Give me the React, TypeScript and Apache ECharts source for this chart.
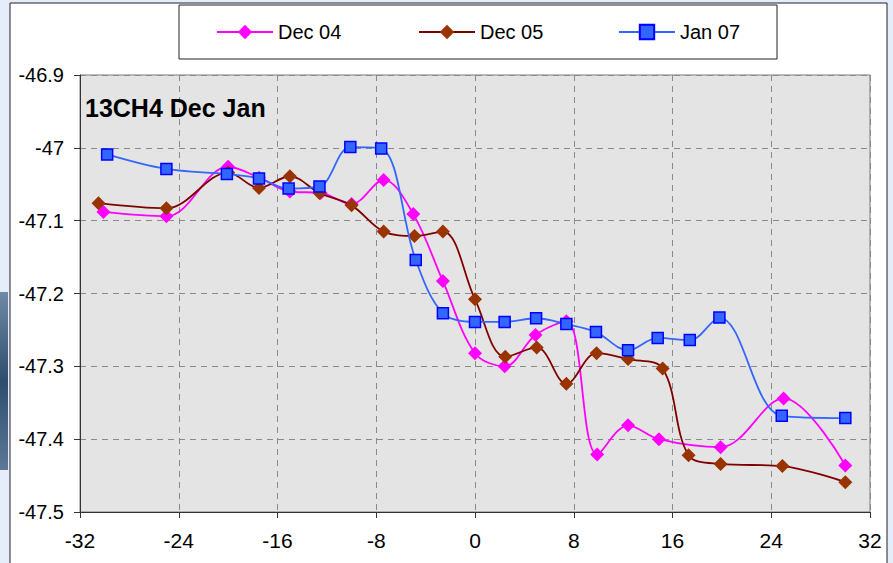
import React, { useEffect, useRef } from "react";
import * as echarts from "echarts";

const seriesNames = ["Dec 04", "Dec 05", "Jan 07"];

const dec04: [number, number][] = [
  [-30.1, -47.088], [-25, -47.094], [-20, -47.026], [-17.5, -47.041], [-15, -47.06],
  [-12.5, -47.062], [-10, -47.077], [-7.4, -47.044], [-5, -47.091], [-2.6, -47.183],
  [0, -47.282], [2.4, -47.3], [4.9, -47.257], [7.4, -47.238], [9.9, -47.421],
  [12.4, -47.381], [14.9, -47.4], [19.9, -47.411], [25, -47.344], [30, -47.436],
];

const dec05: [number, number][] = [
  [-30.5, -47.076], [-25, -47.083], [-20, -47.034], [-17.5, -47.055], [-15, -47.039],
  [-12.6, -47.062], [-10, -47.079], [-7.4, -47.115], [-4.9, -47.121], [-2.6, -47.115],
  [0, -47.208], [2.45, -47.287], [5, -47.274], [7.4, -47.324], [9.85, -47.282],
  [12.4, -47.29], [15.2, -47.303], [17.3, -47.422], [19.9, -47.434], [24.9, -47.437],
  [30, -47.459],
];

const jan07: [number, number][] = [
  [-29.8, -47.009], [-25, -47.029], [-20.1, -47.036], [-17.5, -47.042], [-15.1, -47.056],
  [-12.6, -47.053], [-10.1, -46.999], [-7.6, -47.001], [-4.8, -47.154], [-2.6, -47.227],
  [0, -47.239], [2.4, -47.239], [4.95, -47.234], [7.4, -47.242], [9.8, -47.253],
  [12.4, -47.278], [14.8, -47.261], [17.4, -47.264], [19.8, -47.233], [24.85, -47.368],
  [30, -47.371],
];

const xMin = -32, xMax = 32, xStep = 8;
const yMin = -47.5, yMax = -46.9, yStep = 0.1;

const FONT = "'Liberation Sans', Arial, sans-serif";

export default function App() {
  const ref = useRef<HTMLDivElement>(null);
  useEffect(() => {
    if (!ref.current) return;
    const chart = echarts.init(ref.current, null, { renderer: "svg" });
    const legendLefts = [216, 418, 618];
    const option: any = {
      animation: false,
      backgroundColor: "#e4edf9",
      textStyle: { fontFamily: FONT },
      graphic: [
        { type: "rect", z: -10, shape: { x: 10, y: 3, width: 877, height: 570 }, style: { fill: "#ffffff", stroke: "#222", lineWidth: 1 } },
        {
          type: "rect", z: -10, shape: { x: 0, y: 292, width: 8, height: 178 },
          style: {
            fill: new echarts.graphic.LinearGradient(0, 0, 0, 1, [
              { offset: 0, color: "#6f8aa5" },
              { offset: 0.5, color: "#2f4d6e" },
              { offset: 1, color: "#5c7896" },
            ]),
          },
        },
        { type: "rect", z: 0, shape: { x: 179, y: 5, width: 598, height: 54 }, style: { fill: "#ffffff", stroke: "#222", lineWidth: 1 } },
      ],
      title: {
        text: "13CH4 Dec Jan",
        left: 85,
        top: 95,
        padding: 0,
        textStyle: { fontSize: 25, fontWeight: "bold", color: "#000", fontFamily: FONT },
      },
      legend: seriesNames.map((n, i) => ({
        data: [n],
        left: legendLefts[i],
        top: 22,
        padding: 0,
        itemWidth: 56,
        itemHeight: 18,
        z: 5,
        textStyle: { fontSize: 20, color: "#000", fontFamily: FONT },
      })),
      grid: {
        left: 80, right: 23, top: 75, bottom: 51,
        show: true, backgroundColor: "#e4e4e4", borderColor: "#7a7a7a", borderWidth: 1,
      },
      xAxis: {
        type: "value", min: xMin, max: xMax, interval: xStep,
        axisLine: { show: true, onZero: false, lineStyle: { color: "#333", width: 1 } },
        axisTick: { show: true, length: 6, lineStyle: { color: "#333" } },
        axisLabel: { fontSize: 21, color: "#000", margin: 18, fontFamily: FONT },
        splitLine: { show: true, lineStyle: { color: "#8a8a8a", type: [6, 5], width: 1 } },
      },
      yAxis: {
        type: "value", min: yMin, max: yMax, interval: yStep,
        axisLine: { show: true, onZero: false, lineStyle: { color: "#333", width: 1 } },
        axisTick: { show: true, length: 6, lineStyle: { color: "#333" } },
        axisLabel: {
          fontSize: 20, color: "#000", margin: 16, fontFamily: FONT,
          formatter: (v: number) => String(Math.round(v * 10) / 10),
        },
        splitLine: { show: true, lineStyle: { color: "#8a8a8a", type: [6, 5], width: 1 } },
      },
      series: [
        {
          name: seriesNames[0], type: "line", data: dec04, smooth: 0.35,
          symbol: "diamond", symbolSize: 14,
          lineStyle: { color: "#ff00ff", width: 1.8 },
          itemStyle: { color: "#ff00ff", borderColor: "#ff00ff", borderWidth: 0 },
          z: 3,
        },
        {
          name: seriesNames[1], type: "line", data: dec05, smooth: 0.35,
          symbol: "diamond", symbolSize: 14,
          lineStyle: { color: "#800000", width: 1.8 },
          itemStyle: { color: "#993300", borderColor: "#993300", borderWidth: 0 },
          z: 4,
        },
        {
          name: seriesNames[2], type: "line", data: jan07, smooth: 0.35,
          symbol: "rect", symbolSize: 11,
          lineStyle: { color: "#3366ff", width: 1.8 },
          itemStyle: { color: "#3366ff", borderColor: "#0000ff", borderWidth: 1.5 },
          z: 5,
        },
      ],
    };
    chart.setOption(option);
    return () => chart.dispose();
  }, []);
  return (
    <div
      ref={ref}
      style={{ position: "fixed", left: 0, top: 0, width: 893, height: 563 }}
    />
  );
}
